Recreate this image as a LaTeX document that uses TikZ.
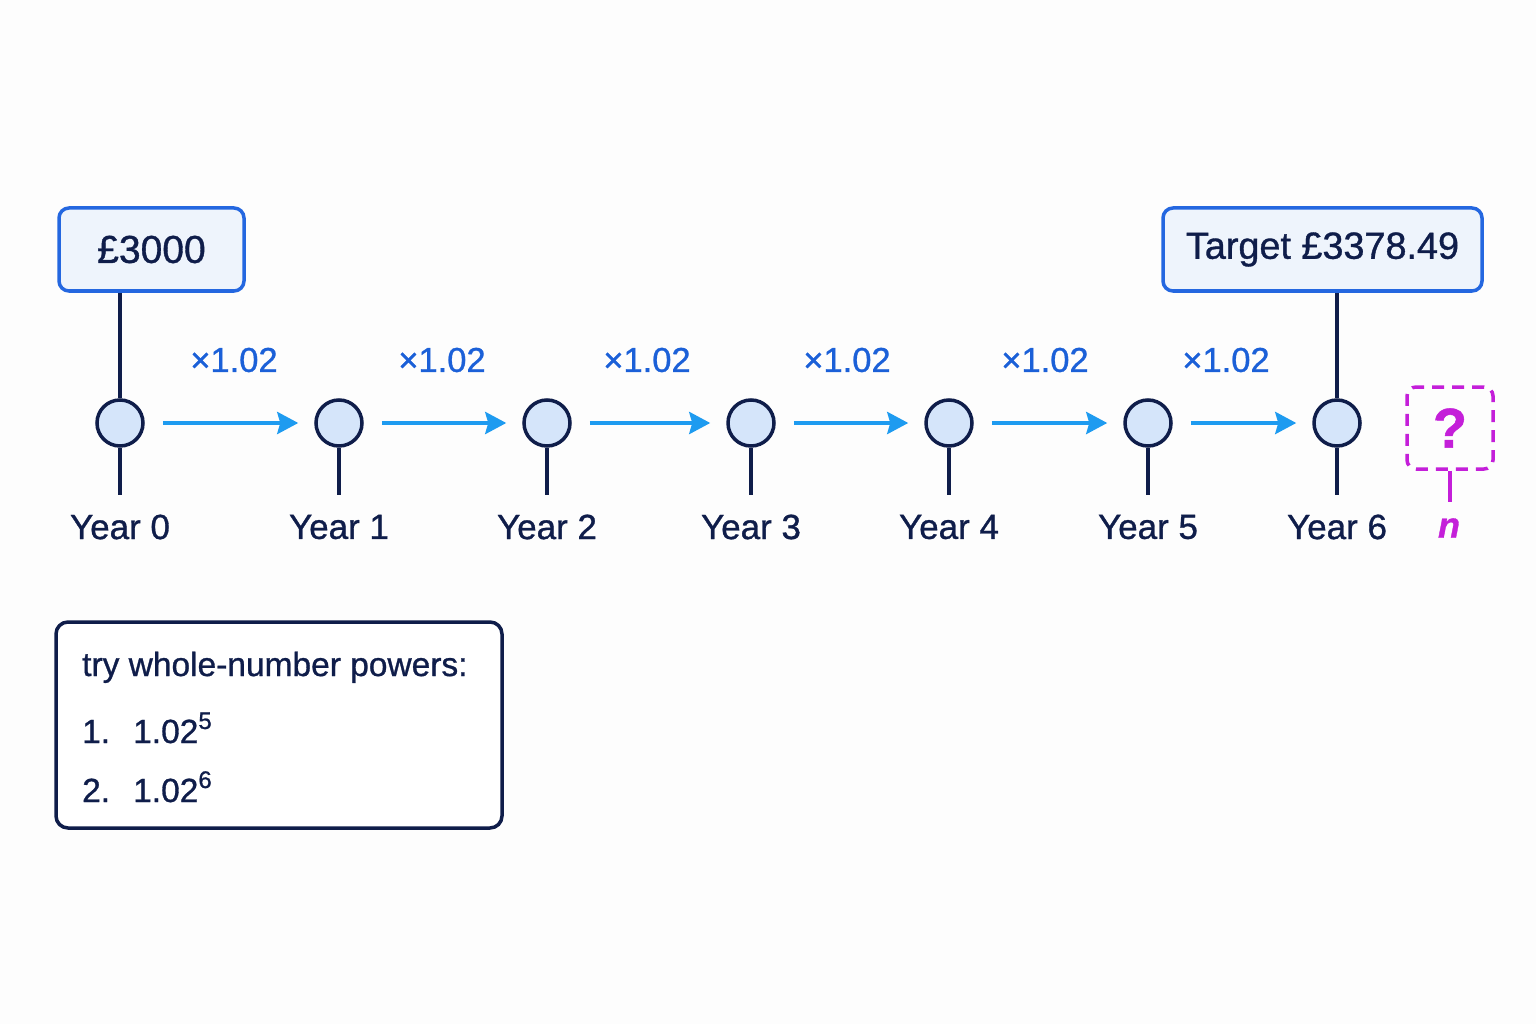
\documentclass[tikz,border=0pt]{standalone}
\usepackage{fontspec}
\setmainfont{Liberation Sans}[FakeBold=0.9]
\usetikzlibrary{arrows.meta}
\definecolor{navy}{HTML}{0F1D4A}
\definecolor{boxblue}{HTML}{2467E0}
\definecolor{boxfill}{HTML}{EEF4FC}
\definecolor{dotfill}{HTML}{D5E5FA}
\definecolor{arrowblue}{HTML}{1E9BF0}
\definecolor{labelblue}{HTML}{1B60D8}
\definecolor{qmagenta}{HTML}{C41FD9}
\definecolor{bg}{HTML}{FDFDFD}
\tikzset{
  yeardot/.style={circle, draw=navy, fill=dotfill, line width=3.5pt, minimum size=46pt, inner sep=0pt},
  stemline/.style={navy, line width=3.5pt},
  growarrow/.style={arrowblue, line width=4pt, -{Stealth[length=21pt,width=22pt,inset=3pt]}},
  yearlbl/.style={text=navy, font=\fontsize{35}{42}\selectfont, inner sep=0pt},
  multlbl/.style={text=labelblue, font=\fontsize{34.5}{42}\selectfont, inner sep=0pt},
  valbox/.style={draw=boxblue, fill=boxfill, line width=3.5pt, rounded corners=10pt, text=navy, minimum height=83pt, inner sep=0pt},
  qbox/.style={draw=qmagenta, dash pattern=on 12pt off 8pt, line width=3.5pt, rounded corners=9pt, minimum width=86pt, minimum height=82pt, inner sep=0pt, text=qmagenta, font=\bfseries\fontsize{56}{60}\selectfont},
  notebox/.style={draw=navy, fill=white, line width=3.5pt, rounded corners=12pt, minimum width=446pt, minimum height=206pt, inner sep=0pt},
  notetxt/.style={text=navy, font=\fontsize{33.5}{40}\selectfont, inner sep=0pt, anchor=base west}
}
\newcommand{\supnum}[1]{\raisebox{14pt}{\fontsize{24}{24}\selectfont #1}}
\begin{document}
\begin{tikzpicture}[x=1pt,y=-1pt]
\useasboundingbox[fill=bg] (0,0) rectangle (1536,1024);
% dots
\foreach \i/\x in {0/120,1/339,2/547,3/751,4/949,5/1148,6/1337}{
  \node[yeardot] (c\i) at (\x,423) {};
  \coordinate (s\i) at (\x,495);
  \draw[stemline] (c\i.south) -- (s\i);
  \node[yearlbl] (y\i) at (\x,527) {Year \i};
}
% arrows and multipliers
\foreach \a/\b/\m in {0/1/234,1/2/442,2/3/647,3/4/847,4/5/1045,5/6/1226}{
  \draw[growarrow] ([xshift=18pt]c\a.east) -- ([xshift=-16pt]c\b.west);
  \node[multlbl] (m\a) at (\m,360) {×1.02};
}
% value boxes
\node[valbox, minimum width=185pt, font=\fontsize{39}{46}\selectfont] (start) at (151.5,249.5) {£3000};
\draw[stemline] (start.south -| c0) -- (c0.north);
\node[valbox, minimum width=319pt, font=\fontsize{37.8}{46}\selectfont] (target) at (1322.5,249.5) {Target £3378.49};
\draw[stemline] (target.south -| c6) -- (c6.north);
% unknown n
\node[qbox] (q) at (1450,428) {?};
\coordinate (qend) at (1450,502);
\draw[qmagenta, line width=3.5pt] (q.south) -- (qend);
\node[text=qmagenta, font=\bfseries\itshape\fontsize{36}{44}\selectfont, inner sep=0pt] (n) at (1449,528) {n};
% note box
\node[notebox] (note) at (279,725) {};
\node[notetxt] (t0) at (82,676) {try whole-number powers:};
\node[notetxt] (t1) at (82,743) {1.};
\node[notetxt] (p1) at (133,743) {1.02\supnum{5}};
\node[notetxt] (t2) at (82,802) {2.};
\node[notetxt] (p2) at (133,802) {1.02\supnum{6}};
\end{tikzpicture}
\end{document}
